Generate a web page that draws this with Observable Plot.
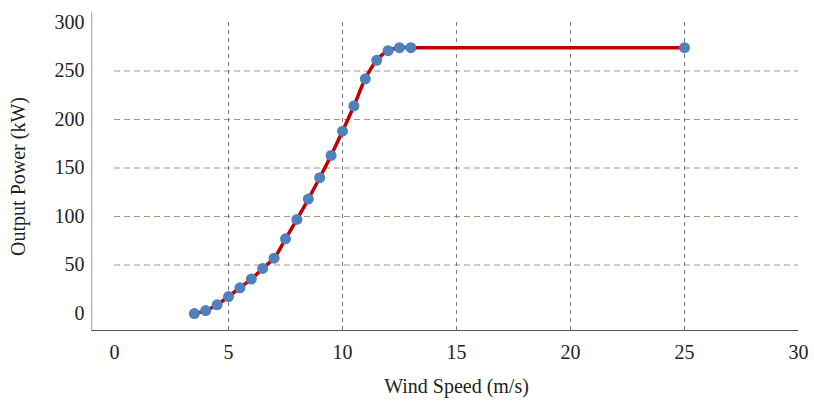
<!DOCTYPE html>
<html><head><meta charset="utf-8">
<script src="https://cdn.jsdelivr.net/npm/d3@7"></script>
<script src="https://cdn.jsdelivr.net/npm/@observablehq/plot@0.6"></script>
<style>body{margin:0;background:#fff}</style>
</head><body><div id="chart"></div>
<script>
const speed = [3.5, 4, 4.5, 5, 5.5, 6, 6.5, 7, 7.5, 8, 8.5, 9, 9.5, 10, 10.5, 11, 11.5, 12, 12.5, 13, 25];
const power = [0, 3, 9, 17.5, 26.5, 35.5, 46.5, 57, 77, 97, 118, 140, 163, 188, 214, 242, 261, 271, 274, 274, 274];
const xTicks = [0, 5, 10, 15, 20, 25, 30];
const yTicks = [0, 50, 100, 150, 200, 250, 300];
const data = speed.map((s, i) => ({s, p: power[i]}));

const chart = Plot.plot({
  width: 814, height: 403,
  marginLeft: 114, marginRight: 16, marginTop: 22, marginBottom: 73,
  style: {fontFamily: "Liberation Serif", fontSize: "20px", color: "#222"},
  x: {domain: [0, 30]},
  y: {domain: [-17.5, 300]},
  marks: [
    Plot.ruleY([50, 100, 150, 200, 250], {stroke: "#a09a80", strokeDasharray: "6,4", strokeWidth: 1.2}),
    Plot.ruleX([5, 10, 15, 20, 25], {y1: -17.5, y2: 300, stroke: "#777", strokeDasharray: "4,4"}),
    Plot.ruleY([-17.5], {x1: -1, x2: 30, stroke: "#555"}),
    Plot.ruleX([-1], {y1: -17.5, y2: 310, stroke: "#999"}),
    Plot.line(data, {x: "s", y: "p", stroke: "#c00000", strokeWidth: 3.5, curve: "catmull-rom"}),
    Plot.dot(data, {x: "s", y: "p", r: 5.5, fill: "#4f81bd"}),
    Plot.axisX({ticks: xTicks, tickSize: 0, tickPadding: 14, label: "Wind Speed (m/s)", labelAnchor: "center", labelArrow: "none", labelOffset: 62}),
    Plot.axisY({ticks: yTicks, tickSize: 0, tickPadding: 30, label: "Output Power (kW)", labelAnchor: "center", labelArrow: "none", labelOffset: 104})
  ]
});
document.getElementById("chart").append(chart);
</script></body></html>
